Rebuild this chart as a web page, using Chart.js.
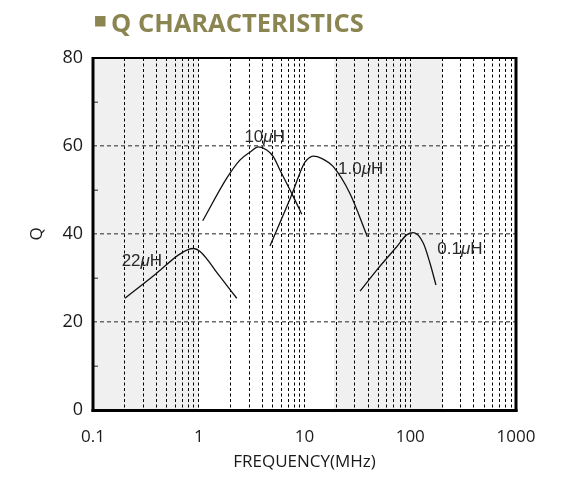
<!DOCTYPE html>
<html><head><meta charset="utf-8">
<script src="https://cdn.jsdelivr.net/npm/chart.js@4/dist/chart.umd.min.js"></script>
<style>html,body{margin:0;padding:0;background:#fff}#wrap{width:567px;height:481px;position:relative}</style>
</head><body><div id="wrap"><canvas id="c" width="567" height="481"></canvas></div>
<script>
// ---- data ----
const titleText = 'Q CHARACTERISTICS';
const titleMark = '■';
const xTitle = 'FREQUENCY(MHz)';
const yTitle = 'Q';
const decades = [0.1, 1, 10, 100];
const xTickLabels = ['0.1', '1', '10', '100', '1000'];
const yTickValues = [0, 20, 40, 60, 80];
const yMinorTicks = [10, 30, 50, 70];
const shadedBands = [[0.1, 1], [19, 200]];

const seriesNames = ['22μH', '10μH', '1.0μH', '0.1μH'];
const freq22uH = [0.2, 0.4, 0.64, 0.8, 0.89, 1.03, 1.59, 2.29];
const q22uH    = [25.4, 31.1, 35.2, 36.5, 36.7, 36.0, 30.3, 25.4];
const freq10uH = [1.09, 1.84, 2.45, 3.09, 3.66, 4.39, 5.07, 5.87, 7.84, 9.42];
const q10uH    = [43.0, 52.7, 56.8, 58.7, 59.8, 59.1, 57.6, 54.5, 48.5, 44.5];
const freq1uH  = [4.72, 7.57, 9.75, 10.5, 12.1, 14.5, 18.7, 26.9, 39.3];
const q1uH     = [37.3, 48.9, 55.7, 56.8, 57.7, 57.2, 55.3, 49.2, 39.4];
const freq01uH = [33.5, 48.2, 74.5, 92.5, 107, 133, 154, 175];
const q01uH    = [27.0, 31.8, 37.1, 39.8, 40.3, 37.9, 33.3, 28.4];
const labelFreq = [0.29, 4.2, 34, 295];
const labelQ    = [33.9, 62, 54.8, 36.6];

const seriesFreq = [freq22uH, freq10uH, freq1uH, freq01uH];
const seriesQ = [q22uH, q10uH, q1uH, q01uH];

// log grid values 0.1..1000
const xGridValues = [];
decades.forEach(d => { for (let m = 1; m <= 9; m++) xGridValues.push(parseFloat((m * d).toPrecision(6))); });
xGridValues.push(1000);

const FONT = '"Open Sans", "Noto Sans", sans-serif';

const decor = {
  id: 'decor',
  beforeDraw(chart) {
    const {ctx, chartArea: a, scales: {x}} = chart;
    ctx.save();
    ctx.fillStyle = '#fff';
    ctx.fillRect(0, 0, chart.width, chart.height);
    ctx.fillStyle = '#f0f0f0';
    shadedBands.forEach(([f0, f1]) => {
      const x0 = x.getPixelForValue(f0), x1 = x.getPixelForValue(f1);
      ctx.fillRect(x0, a.top, x1 - x0, a.bottom - a.top);
    });
    // title
    ctx.fillStyle = '#8b8552';
    ctx.font = 'bold 25.5px ' + FONT;
    ctx.textBaseline = 'alphabetic';
    ctx.textAlign = 'left';
    ctx.fillText(titleText, 111, 31.5);
    ctx.font = '100px "DejaVu Sans"';
    const m0 = ctx.measureText(titleMark);
    const w0 = m0.actualBoundingBoxRight + m0.actualBoundingBoxLeft;
    const size = 100 * 10.5 / w0;
    ctx.font = size + 'px "DejaVu Sans"';
    const m = ctx.measureText(titleMark);
    const base = 21 + (m.actualBoundingBoxAscent - m.actualBoundingBoxDescent) / 2;
    ctx.fillText(titleMark, 95 + m.actualBoundingBoxLeft, base);
    ctx.restore();
  },
  afterDatasetsDraw(chart) {
    const {ctx, chartArea: a, scales: {x, y}} = chart;
    ctx.save();
    // minor y ticks
    ctx.strokeStyle = '#666';
    ctx.lineWidth = 1.5;
    yMinorTicks.forEach(v => {
      const py = Math.round(y.getPixelForValue(v)) + 0.25;
      ctx.beginPath(); ctx.moveTo(a.left, py); ctx.lineTo(a.left + 5, py); ctx.stroke();
    });
    // frame
    ctx.strokeStyle = '#000';
    ctx.lineWidth = 2;
    ctx.beginPath(); ctx.moveTo(a.left, a.top); ctx.lineTo(a.right, a.top); ctx.stroke();
    ctx.lineWidth = 3;
    ctx.beginPath(); ctx.moveTo(a.left, a.top - 1); ctx.lineTo(a.left, a.bottom + 2); ctx.stroke();
    ctx.beginPath(); ctx.moveTo(a.left - 1.5, a.bottom + 0.5); ctx.lineTo(a.right + 1.5, a.bottom + 0.5); ctx.stroke();
    ctx.beginPath(); ctx.moveTo(a.right, a.top - 1); ctx.lineTo(a.right, a.bottom + 2); ctx.stroke();
    // series labels
    ctx.fillStyle = '#2a2a2a';
    ctx.textBaseline = 'middle';
    ctx.textAlign = 'left';
    const normal = '17px "Liberation Sans Narrow", "Liberation Sans", sans-serif';
    const ital = 'italic 17px "Liberation Sans Narrow", "Liberation Sans", sans-serif';
    seriesNames.forEach((name, i) => {
      const cx = x.getPixelForValue(labelFreq[i]);
      const cy = y.getPixelForValue(labelQ[i]);
      const k = name.indexOf('μ');
      const parts = [[name.slice(0, k), normal], ['μ', ital], [name.slice(k + 1), normal]];
      let tw = 0;
      parts.forEach(p => { ctx.font = p[1]; tw += ctx.measureText(p[0]).width; });
      let px = cx - tw / 2;
      parts.forEach(p => { ctx.font = p[1]; ctx.fillText(p[0], px, cy); px += ctx.measureText(p[0]).width; });
    });
    ctx.restore();
  }
};

new Chart(document.getElementById('c'), {
  type: 'line',
  data: {
    datasets: seriesNames.map((name, i) => ({
      label: name,
      data: seriesFreq[i].map((f, j) => ({x: f, y: seriesQ[i][j]})),
      borderColor: '#111',
      borderWidth: 1.3,
      pointRadius: 0,
      fill: false,
      cubicInterpolationMode: 'monotone'
    }))
  },
  options: {
    responsive: false,
    animation: false,
    layout: {padding: {top: 58, right: 51, left: 0, bottom: 0}},
    plugins: {legend: {display: false}, tooltip: {enabled: false}},
    scales: {
      x: {
        type: 'logarithmic',
        min: 0.1, max: 1000,
        afterBuildTicks: s => { s.ticks = xGridValues.map(v => ({value: v})); },
        afterFit: s => { s.height = 71; },
        ticks: {
          autoSkip: false, maxRotation: 0, padding: 17,
          color: '#1a1a1a', font: {family: FONT, size: 17},
          callback: v => { const t = String(v); return xTickLabels.includes(t) ? t : ''; }
        },
        grid: {color: '#000', lineWidth: 1, drawTicks: false},
        border: {display: false, dash: [3, 2.5]},
        title: {display: true, text: xTitle, color: '#1a1a1a', font: {family: FONT, size: 17}, padding: {top: 0, bottom: 9}}
      },
      y: {
        min: 0, max: 80,
        afterBuildTicks: s => { s.ticks = yTickValues.map(v => ({value: v})); },
        afterFit: s => { s.width = 93; },
        ticks: {padding: 10, color: '#1a1a1a', font: {family: FONT, size: 18}},
        grid: {color: '#6b6b6b', lineWidth: 1.5, drawTicks: false},
        border: {display: false, dash: [4, 3]},
        title: {display: true, text: yTitle, color: '#1a1a1a', font: {family: FONT, size: 17}, padding: {top: 27, bottom: 0}}
      }
    }
  },
  plugins: [decor]
});
</script>
</body></html>
